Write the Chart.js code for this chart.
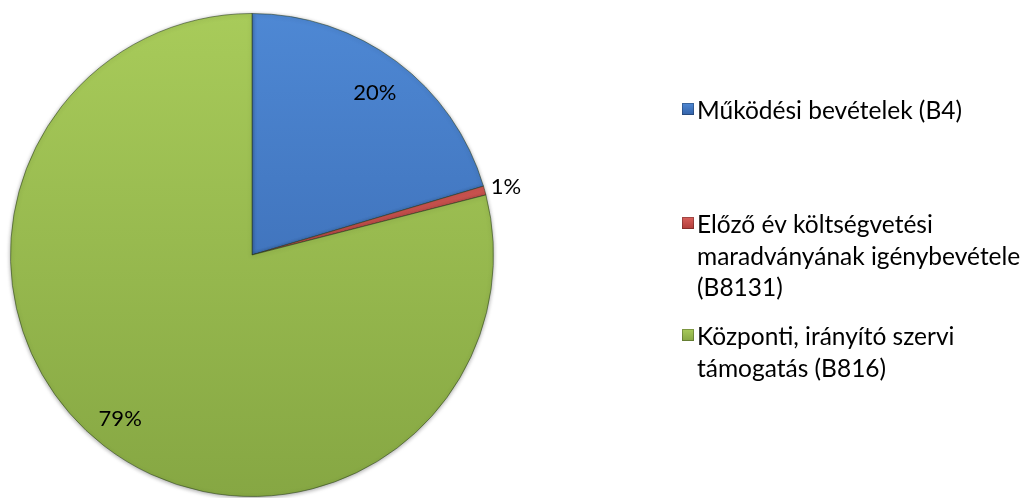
<!DOCTYPE html>
<html>
<head>
<meta charset="utf-8">
<script src="https://cdn.jsdelivr.net/npm/chart.js@4/dist/chart.umd.min.js"></script>
<style>
html,body{margin:0;padding:0;background:#fff;}
#wrap{width:1030px;height:498px;position:relative;}
</style>
</head>
<body>
<div id="wrap"><canvas id="c" width="1030" height="498"></canvas></div>
<script>
const categories = [
  ["Működési bevételek (B4)"],
  ["Előző év költségvetési", "maradványának igénybevétele", "(B8131)"],
  ["Központi, irányító szervi", "támogatás (B816)"]
];
const values = [20.4, 0.6, 79.0];
const baseColors = [
  ["#4e88d4", "#3462a8"],
  ["#d9605c", "#b03c38"],
  ["#a8cb5a", "#86a743"]
];
const LABEL_FONT = '22px Lato, "Open Sans", sans-serif';
const LEGEND_FONT = '24.5px Lato, "Open Sans", sans-serif';

function grad(ctx, area, i) {
  const g = ctx.createLinearGradient(0, area.top, 0, area.bottom);
  g.addColorStop(0, baseColors[i][0]);
  g.addColorStop(1, baseColors[i][1]);
  return g;
}

const labelPlugin = {
  id: 'pctLabels',
  afterDatasetsDraw(chart) {
    const ctx = chart.ctx;
    const meta = chart.getDatasetMeta(0);
    const data = chart.data.datasets[0].data;
    const total = data.reduce((a, b) => a + b, 0);
    ctx.save();
    ctx.font = LABEL_FONT;
    ctx.fillStyle = '#000';
    ctx.textBaseline = 'middle';
    ctx.textAlign = 'center';
    meta.data.forEach((arc, i) => {
      const p = arc.getProps(['x', 'y', 'startAngle', 'endAngle', 'outerRadius'], true);
      const mid = (p.startAngle + p.endAngle) / 2;
      const pct = data[i] / total * 100;
      const txt = Math.round(pct) + '%';
      const r = pct < 3 ? p.outerRadius + 22 : p.outerRadius * 0.85;
      const dx = pct > 50 ? -6 : 0;
      ctx.fillText(txt, p.x + Math.cos(mid) * r + dx, p.y + Math.sin(mid) * r + 2);
    });
    ctx.restore();
  }
};

const legendPlugin = {
  id: 'sideLegend',
  afterDraw(chart) {
    const ctx = chart.ctx;
    const firstBaselines = [119, 233, 345];
    const lineH = 31.5;
    ctx.save();
    ctx.font = LEGEND_FONT;
    ctx.textBaseline = 'alphabetic';
    ctx.textAlign = 'left';
    chart.data.labels.forEach((lines, i) => {
      const b = firstBaselines[i];
      const by = b - 16;
      const g = ctx.createLinearGradient(0, by, 0, by + 12);
      g.addColorStop(0, baseColors[i][0]);
      g.addColorStop(1, baseColors[i][1]);
      ctx.fillStyle = g;
      ctx.fillRect(682, by, 12, 12);
      ctx.strokeStyle = 'rgba(0,0,0,0.25)';
      ctx.lineWidth = 1;
      ctx.strokeRect(682.5, by + 0.5, 11, 11);
      ctx.fillStyle = '#000';
      lines.forEach((t, k) => ctx.fillText(t, 697, b + k * lineH));
    });
    ctx.restore();
  }
};

const shadowPlugin = {
  id: 'pieShadow',
  beforeDatasetsDraw(chart) {
    const ctx = chart.ctx;
    ctx.save();
    ctx.shadowColor = 'rgba(0,0,0,0.35)';
    ctx.shadowBlur = 4;
    ctx.shadowOffsetX = 0;
    ctx.shadowOffsetY = 1;
  },
  afterDatasetsDraw(chart) {
    chart.ctx.restore();
  }
};

new Chart(document.getElementById('c'), {
  type: 'pie',
  data: {
    labels: categories,
    datasets: [{
      data: values,
      backgroundColor: (c) => {
        const area = c.chart.chartArea;
        if (!area) return baseColors[c.dataIndex][0];
        return grad(c.chart.ctx, area, c.dataIndex);
      },
      borderColor: 'rgba(40,60,30,0.55)',
      borderWidth: 1,
      offset: 0
    }]
  },
  options: {
    responsive: false,
    animation: false,
    rotation: 0,
    layout: { padding: { left: 10, right: 536, top: 13, bottom: 1 } },
    plugins: {
      legend: { display: false },
      tooltip: { enabled: false }
    }
  },
  plugins: [shadowPlugin, labelPlugin, legendPlugin]
});
</script>
</body>
</html>
